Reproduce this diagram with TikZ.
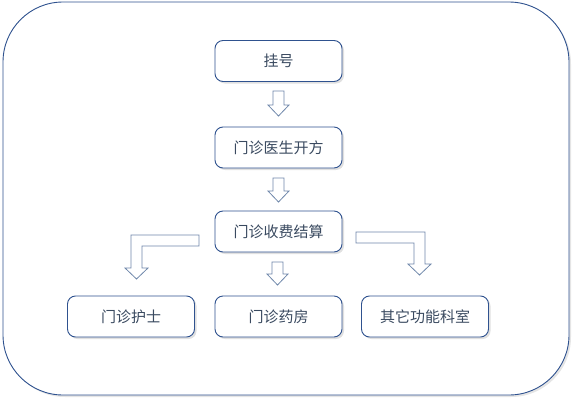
\documentclass[tikz,border=0pt]{standalone}
\usepackage{fontspec}
\setmainfont{Noto Sans CJK SC}
\usetikzlibrary{shadows,calc}
\definecolor{bord}{HTML}{2F528F}
\definecolor{arr}{HTML}{6F87AA}
\definecolor{txt}{HTML}{3A4A60}
\tikzset{
  box/.style={draw=bord, line width=0.9pt, rounded corners=8pt, fill=white,
    minimum width=127pt, minimum height=41pt, font=\fontsize{15}{17}\selectfont, text=txt,
    drop shadow={shadow xshift=2pt, shadow yshift=-2pt, fill=black, opacity=0.12}},
  blockarrow/.style={draw=arr, line width=0.8pt, fill=white, line join=miter}
}
\begin{document}
\begin{tikzpicture}[x=1pt,y=-1pt]
\useasboundingbox (0,0) rectangle (576,402);
\draw[bord, line width=0.9pt, rounded corners=60pt, fill=white,
  drop shadow={shadow xshift=2pt, shadow yshift=-2pt, fill=black, opacity=0.10}] (3,2) rectangle (569,395);
\node[box] (reg) at (278.5,61) {挂号};
\node[box] (doc) at (278.5,147.5) {门诊医生开方};
\node[box] (pay) at (278.5,231.5) {门诊收费结算};
\node[box] (nur) at (131,316.5) {门诊护士};
\node[box] (pha) at (278.5,316.5) {门诊药房};
\node[box] (oth) at (425,316.5) {其它功能科室};
% straight down arrows
\newcommand{\downarrowblk}[3]{% x, top, bottom
  \draw[blockarrow] ({#1-5.5},#2) -- ({#1+5.5},#2) -- ({#1+5.5},{#3-11}) -- ({#1+10.5},{#3-11})
    -- (#1,#3) -- ({#1-10.5},{#3-11}) -- ({#1-5.5},{#3-11}) -- cycle;}
\downarrowblk{278.5}{91}{116}
\downarrowblk{278.5}{178}{202}
\downarrowblk{277.5}{262}{285}
% left elbow arrow
\draw[blockarrow] (199,235) -- (131,235) -- (131,268) -- (125,268) -- (136.5,279) -- (148,268)
  -- (142,268) -- (142,246) -- (199,246) -- cycle;
% right elbow arrow
\draw[blockarrow] (356,232) -- (425,232) -- (425,264) -- (431,264) -- (419.5,275) -- (408,264)
  -- (414,264) -- (414,243) -- (356,243) -- cycle;
\end{tikzpicture}
\end{document}
